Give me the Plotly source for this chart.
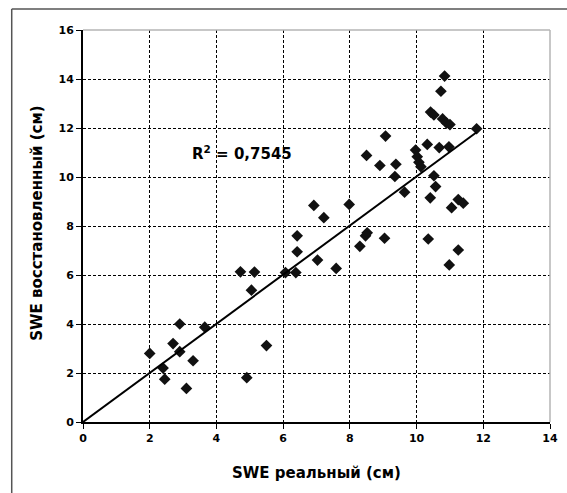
import numpy as np
import plotly.graph_objects as go

swe_real = [2.0, 2.4, 2.45, 2.7, 2.9, 2.9, 3.1, 3.3, 3.65, 4.72, 4.91, 5.05, 5.14, 5.5,
            6.07, 6.38, 6.42, 6.42, 6.92, 7.03, 7.22, 7.59, 7.98, 8.3, 8.47, 8.52, 8.5,
            8.9, 9.04, 9.07, 9.35, 9.38, 9.64, 9.97, 10.02, 10.07, 10.13, 10.32, 10.35,
            10.41, 10.52, 10.57, 10.42, 10.52, 10.68, 10.73, 10.78, 10.84, 10.9, 10.97,
            10.98, 11.0, 11.05, 11.25, 11.25, 11.4, 11.8]
swe_restored = [2.8, 2.2, 1.75, 3.2, 4.0, 2.87, 1.37, 2.5, 3.87, 6.13, 1.81, 5.38, 6.12, 3.12,
                6.1, 6.1, 6.95, 7.6, 8.84, 6.61, 8.34, 6.27, 8.88, 7.17, 7.6, 7.72, 10.88,
                10.47, 7.5, 11.67, 10.02, 10.52, 9.38, 11.1, 10.83, 10.6, 10.42, 11.33, 7.47,
                9.15, 10.05, 9.61, 12.65, 12.53, 11.2, 13.5, 12.37, 14.12, 12.2, 11.23,
                6.41, 12.14, 8.75, 7.02, 9.08, 8.93, 11.97]
r2_label = "R<sup>2</sup> = 0,7545"
x_title = "SWE реальный (см)"
y_title = "SWE восстановленный (см)"

x = np.array(swe_real)
y = np.array(swe_restored)
slope = float((x * y).sum() / (x * x).sum())
trend_x = [0.0, float(x.max())]
trend_y = [slope * v for v in trend_x]

FONT = "DejaVu Sans"

fig = go.Figure()
fig.add_trace(go.Scatter(x=swe_real, y=swe_restored, mode="markers",
                         marker=dict(symbol="diamond", size=9, color="#111111",
                                     line=dict(width=0)),
                         showlegend=False, hoverinfo="skip"))
fig.add_trace(go.Scatter(x=trend_x, y=trend_y, mode="lines",
                         line=dict(color="#000000", width=2),
                         showlegend=False, hoverinfo="skip"))

axis_common = dict(showline=True, linecolor="#000000", linewidth=2,
                   ticks="outside", ticklen=5, tickwidth=1, tickcolor="#000000",
                   showgrid=True, gridcolor="#000000", gridwidth=1, griddash="3px,2px",
                   zeroline=False, tickfont=dict(family=FONT, size=11, color="#000000",
                                                 weight="bold"))

fig.update_xaxes(range=[0, 14], tickvals=list(range(0, 15, 2)), **axis_common)
fig.update_yaxes(range=[0, 16], tickvals=list(range(0, 17, 2)), **axis_common)

L, R, T, B = 83, 9, 30, 71
W, H = 567, 493
pw, ph = W - L - R, H - T - B

def px(xp):
    return (xp - L) / pw

def py(yp):
    return (H - B - yp) / ph

shapes = [
    dict(type="line", xref="paper", yref="paper", x0=0, x1=1, y0=1, y1=1,
         line=dict(color="#b4b4b4", width=1.5), layer="above"),
    dict(type="line", xref="paper", yref="paper", x0=1, x1=1, y0=0, y1=1,
         line=dict(color="#b4b4b4", width=1.5), layer="above"),
    dict(type="line", xref="paper", yref="paper", x0=px(10.5), x1=px(600),
         y0=py(9), y1=py(9), line=dict(color="#555555", width=1.5)),
    dict(type="line", xref="paper", yref="paper", x0=px(10.5), x1=px(10.5),
         y0=py(9), y1=py(520), line=dict(color="#555555", width=1.5)),
]

annotations = [
    dict(x=3.2, y=11.0, xref="x", yref="y", text=r2_label, showarrow=False,
         xanchor="left", yanchor="middle",
         font=dict(family=FONT, size=15, color="#000000", weight="bold")),
    dict(x=px(320), y=py(473), xref="paper", yref="paper", text=x_title, showarrow=False,
         xanchor="center", yanchor="middle",
         font=dict(family=FONT, size=15, color="#000000", weight="bold")),
    dict(x=px(36), y=py(223), xref="paper", yref="paper", text=y_title, showarrow=False,
         xanchor="center", yanchor="middle", textangle=-90,
         font=dict(family=FONT, size=15, color="#000000", weight="bold")),
]

fig.update_layout(width=W, height=H, margin=dict(l=L, r=R, t=T, b=B),
                  paper_bgcolor="#ffffff", plot_bgcolor="#ffffff",
                  shapes=shapes, annotations=annotations, showlegend=False)

fig.write_html("out.html")
